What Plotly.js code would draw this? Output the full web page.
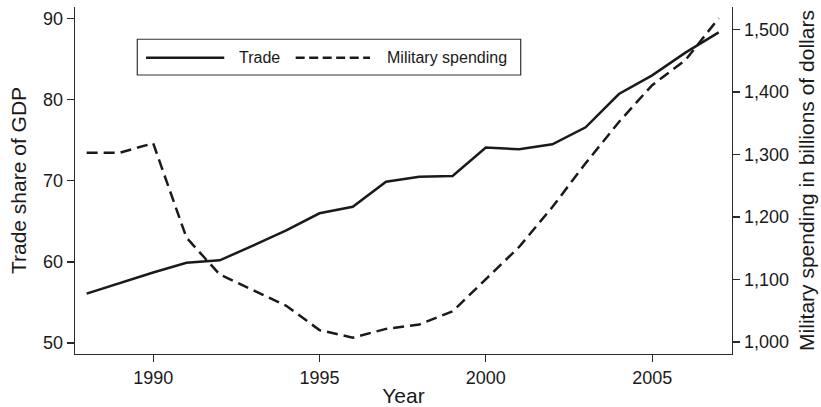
<!DOCTYPE html>
<html>
<head>
<meta charset="utf-8">
<script src="https://cdn.plot.ly/plotly-3.0.1.min.js"></script>
<style>html,body{margin:0;padding:0;background:#fff;}#chart{width:821px;height:407px;}</style>
</head>
<body>
<div id="chart"></div>
<script>
var years = [1988,1989,1990,1991,1992,1993,1994,1995,1996,1997,1998,1999,2000,2001,2002,2003,2004,2005,2006,2007];
var tradeShare = [56.1,57.4,58.7,59.9,60.2,62.0,63.9,66.0,66.8,69.9,70.5,70.6,74.1,73.9,74.5,76.6,80.7,83.0,85.8,88.3];
var militarySpending = [1303,1303,1318,1167,1108,1083,1058,1019,1007,1021,1028,1049,1100,1152,1216,1286,1352,1411,1451,1518];
var xTicks = [1990,1995,2000,2005];
var leftTicks = [50,60,70,80,90];
var gridTicks = [60,70,80,90];
var rightTicks = [1000,1100,1200,1300,1400,1500];
var seriesNames = ["Trade","Military spending"];

var FONT = "Liberation Sans, Arial, Helvetica, sans-serif";
var INK = "#1a1a1a";
var AXIS = "#2a2a2a";

var traces = [
  {x: years, y: tradeShare, type: "scatter", mode: "lines", name: seriesNames[0], yaxis: "y",
   line: {color: INK, width: 2.5}},
  {x: years, y: militarySpending, type: "scatter", mode: "lines", name: seriesNames[1], yaxis: "y2",
   line: {color: INK, width: 2.5, dash: "11px,6px"}}
];

var layout = {
  width: 821, height: 407,
  margin: {l: 75, r: 89, t: 7, b: 53},
  paper_bgcolor: "#fff", plot_bgcolor: "#fff",
  showlegend: false,
  font: {family: FONT, color: INK, size: 18},
  xaxis: {
    range: [1987.65, 2007.4], tickvals: xTicks, ticktext: xTicks.map(String),
    showline: true, linecolor: AXIS, linewidth: 1.3, ticks: "outside", ticklen: 7, tickcolor: AXIS, tickwidth: 1.3,
    showgrid: false, zeroline: false, tickfont: {size: 18, color: INK},
    title: {text: "Year", font: {size: 21, color: INK}, standoff: 2}
  },
  yaxis: {
    range: [48.65, 91.43], tickvals: leftTicks, ticktext: leftTicks.map(String),
    showline: true, linecolor: AXIS, linewidth: 1.3, ticks: "outside", ticklen: 7, tickcolor: AXIS, tickwidth: 1.3,
    showgrid: false, zeroline: false, tickfont: {size: 18, color: INK},
    title: {text: "Trade share of GDP", font: {size: 21, color: INK}, standoff: 10}
  },
  yaxis3: {
    range: [48.65, 91.43], overlaying: "y", tickvals: gridTicks, showticklabels: false, ticks: "",
    showgrid: true, gridcolor: "#c9c9c9", gridwidth: 1, zeroline: false, showline: false, layer: "below traces"
  },
  yaxis2: {
    range: [980.8, 1536], overlaying: "y", side: "right", tickvals: rightTicks, tickformat: ",d",
    showline: true, linecolor: AXIS, linewidth: 1.3, ticks: "outside", ticklen: 7, tickcolor: AXIS, tickwidth: 1.3,
    showgrid: false, zeroline: false, tickfont: {size: 18, color: INK},
    title: {text: "Military spending in billions of dollars", font: {size: 21, color: INK}, standoff: 11}
  },
  shapes: [
    {type: "rect", xref: "paper", yref: "paper", x0: 0.0948, x1: 0.6784, y0: 0.804, y1: 0.907,
     line: {color: "#333", width: 1.2}, fillcolor: "#fff", layer: "above"},
    {type: "line", xref: "paper", yref: "paper", x0: 0.1081, x1: 0.2272, y0: 0.854, y1: 0.854,
     line: {color: INK, width: 2.5}, layer: "above"},
    {type: "line", xref: "paper", yref: "paper", x0: 0.3359, x1: 0.4490, y0: 0.854, y1: 0.854,
     line: {color: INK, width: 2.5, dash: "9px,4.5px"}, layer: "above"}
  ],
  annotations: [
    {xref: "paper", yref: "paper", x: 0.2462, y: 0.854, xanchor: "left", yanchor: "middle", showarrow: false,
     text: seriesNames[0], font: {size: 16, color: INK, family: FONT}},
    {xref: "paper", yref: "paper", x: 0.4718, y: 0.854, xanchor: "left", yanchor: "middle", showarrow: false,
     text: seriesNames[1], font: {size: 16, color: INK, family: FONT}}
  ]
};

Plotly.newPlot("chart", traces, layout, {displayModeBar: false, staticPlot: true});
</script>
</body>
</html>
